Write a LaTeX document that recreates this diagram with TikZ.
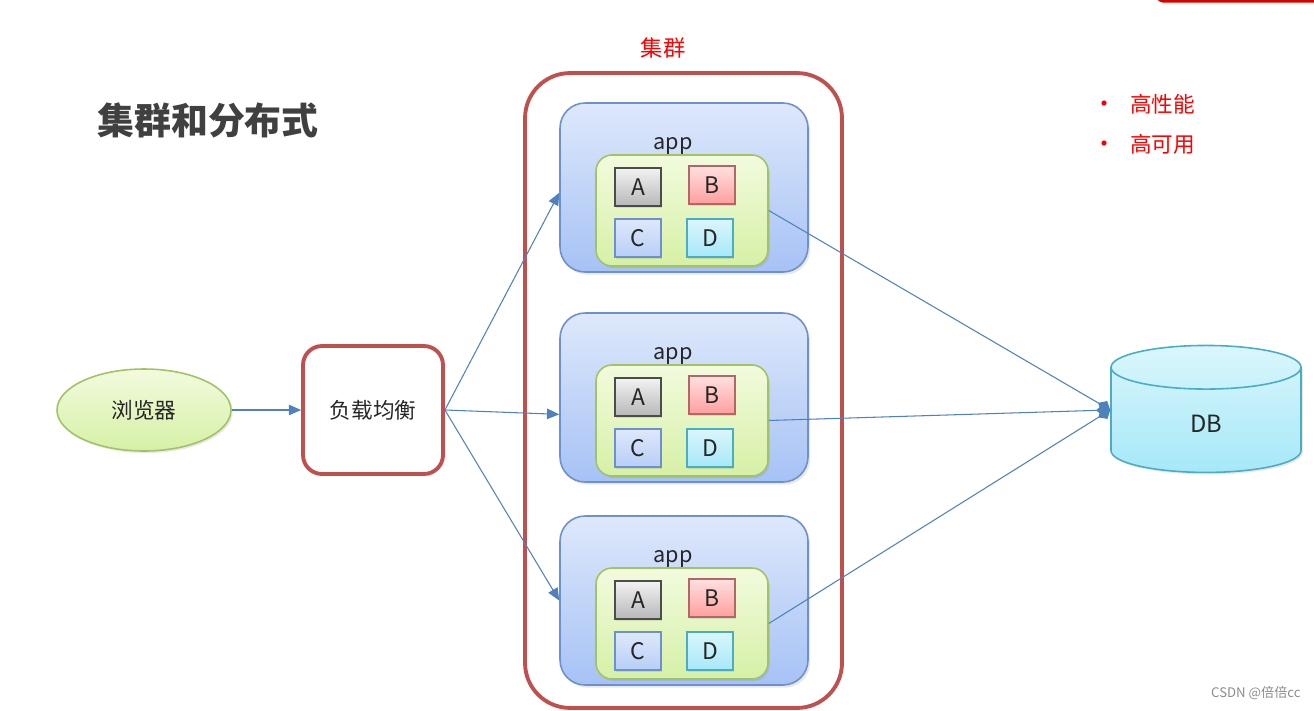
\documentclass[tikz,border=0pt]{standalone}
\usepackage{fontspec}
\setmainfont{Noto Sans CJK SC}
\usetikzlibrary{arrows.meta,shapes.geometric,shadows}

\definecolor{clusterred}{RGB}{192,80,77}
\definecolor{linkblue}{RGB}{79,129,189}
\definecolor{appline}{RGB}{108,145,205}
\definecolor{apptop}{RGB}{222,232,251}
\definecolor{appbot}{RGB}{166,194,245}
\definecolor{modline}{RGB}{160,196,100}
\definecolor{modtop}{RGB}{242,251,222}
\definecolor{modbot}{RGB}{214,240,166}
\definecolor{dbline}{RGB}{75,172,198}
\definecolor{dbtop}{RGB}{218,246,252}
\definecolor{dbbot}{RGB}{166,232,248}
\definecolor{titlegray}{RGB}{64,64,64}
\definecolor{hotred}{RGB}{255,0,0}

\begin{document}
\begin{tikzpicture}[x=0.02cm, y=-0.02cm,
    every node/.style={font=\fontsize{12.3}{14}\selectfont, text=black!85},
    appbox/.style={draw=appline, line width=0.9pt, rounded corners=0.5cm,
        top color=apptop, bottom color=appbot, minimum width=4.96cm, minimum height=3.38cm,
        drop shadow={opacity=0.18, shadow xshift=1.2pt, shadow yshift=-1.5pt}},
    modbox/.style={draw=modline, line width=0.9pt, rounded corners=0.32cm,
        top color=modtop, bottom color=modbot, minimum width=3.44cm, minimum height=2.22cm,
        drop shadow={opacity=0.18, shadow xshift=1pt, shadow yshift=-1.2pt}},
    sq/.style={line width=0.8pt, minimum width=0.92cm, minimum height=0.76cm, inner sep=0pt,
        font=\fontsize{13}{14}\selectfont,
        drop shadow={opacity=0.2, shadow xshift=0.8pt, shadow yshift=-1pt}},
    sqa/.style={sq, draw=black!70, top color=black!5, bottom color=black!28},
    sqb/.style={sq, draw=red!50!black!60, top color=red!12, bottom color=red!38},
    sqc/.style={sq, draw=appline, top color=apptop, bottom color=appbot!80},
    sqd/.style={sq, draw=dbline, top color=dbtop, bottom color=dbbot},
    redbox/.style={draw=clusterred, line width=2.2pt, fill=white},
    link/.style={draw=linkblue, line width=0.6pt},
    redtext/.style={text=hotred}]

    % 1. 画布范围与右上角红条
    \useasboundingbox (0,0) rectangle (1314,710);
    \fill[red!85!black, rounded corners=3pt] (1157,-10) rectangle (1330,2.5);

    % 2. 标题与说明文字
    \node[font=\fontsize{21}{24}\selectfont\bfseries, text=titlegray] (title) at (208,120) {集群和分布式};
    \node[redtext, font=\fontsize{12.7}{14}\selectfont] (clusterlabel) at (663,48) {集群};
    \fill[hotred] (1104,103) circle (2.6);
    \fill[hotred] (1104,143) circle (2.6);
    \node[redtext, anchor=west] (perf) at (1124,104) {高性能};
    \node[redtext, anchor=west] (avail) at (1124,144) {高可用};

    % 3. 集群外框
    \node[redbox, rounded corners=0.9cm, minimum width=6.34cm, minimum height=12.7cm] (cluster) at (683.5,390.5) {};

    % 4. 三个 app 节点
    \foreach \i/\t in {1/103, 2/313, 3/516} {
        \node[appbox] (app\i) at (684,\t+84.5) {};
        \node (applabel\i) at (673,\t+43) {app};
        \node[modbox] (mod\i) at (682,\t+107.5) {};
        \node[sqa] (a\i) at (638,\t+84) {A};
        \node[sqb] (b\i) at (712,\t+82) {B};
        \node[sqc] (c\i) at (638,\t+135) {C};
        \node[sqd] (d\i) at (710,\t+135) {D};
    }

    % 5. 浏览器、负载均衡与数据库
    \node[ellipse, draw=modline, line width=0.9pt, top color=modtop, bottom color=modbot,
        minimum width=3.48cm, minimum height=1.64cm, inner sep=0pt,
        drop shadow={opacity=0.18, shadow xshift=1pt, shadow yshift=-1.2pt}] (browser) at (144,410) {浏览器};
    \node[redbox, rounded corners=0.38cm, minimum width=2.8cm, minimum height=2.56cm] (lb) at (373,410) {负载均衡};
    \node[cylinder, shape border rotate=90, aspect=1, draw=dbline, line width=0.9pt,
        top color=dbtop, bottom color=dbbot, minimum width=3.8cm, minimum height=2.54cm,
        font=\fontsize{13.5}{14}\selectfont,
        drop shadow={opacity=0.18, shadow xshift=1pt, shadow yshift=-1.2pt}] (db) at (1206,424) {DB};
    \coordinate (dbin) at ([yshift=8pt]db.west);

    % 6. 连线
    \draw[link, -{Triangle[length=7pt, width=6pt]}] (browser) -- (lb);
    \draw[link, -{Triangle[length=7pt, width=6pt]}] (lb.east) -- ([yshift=-3pt]app1.west);
    \draw[link, -{Triangle[length=7pt, width=6pt]}] (lb.east) -- ([yshift=-9.6pt]app2.west);
    \draw[link, -{Triangle[length=7pt, width=6pt]}] (lb.east) -- (app3.west);
    \foreach \i in {1,2,3}
        \draw[link, -{Diamond[length=8pt, width=7pt]}] (mod\i.east) -- (dbin);

    % 7. 水印
    \node[anchor=west, text=black!45, font=\fontsize{7.5}{9}\selectfont] (mark) at (1205,693) {CSDN @倍倍cc};
\end{tikzpicture}
\end{document}
